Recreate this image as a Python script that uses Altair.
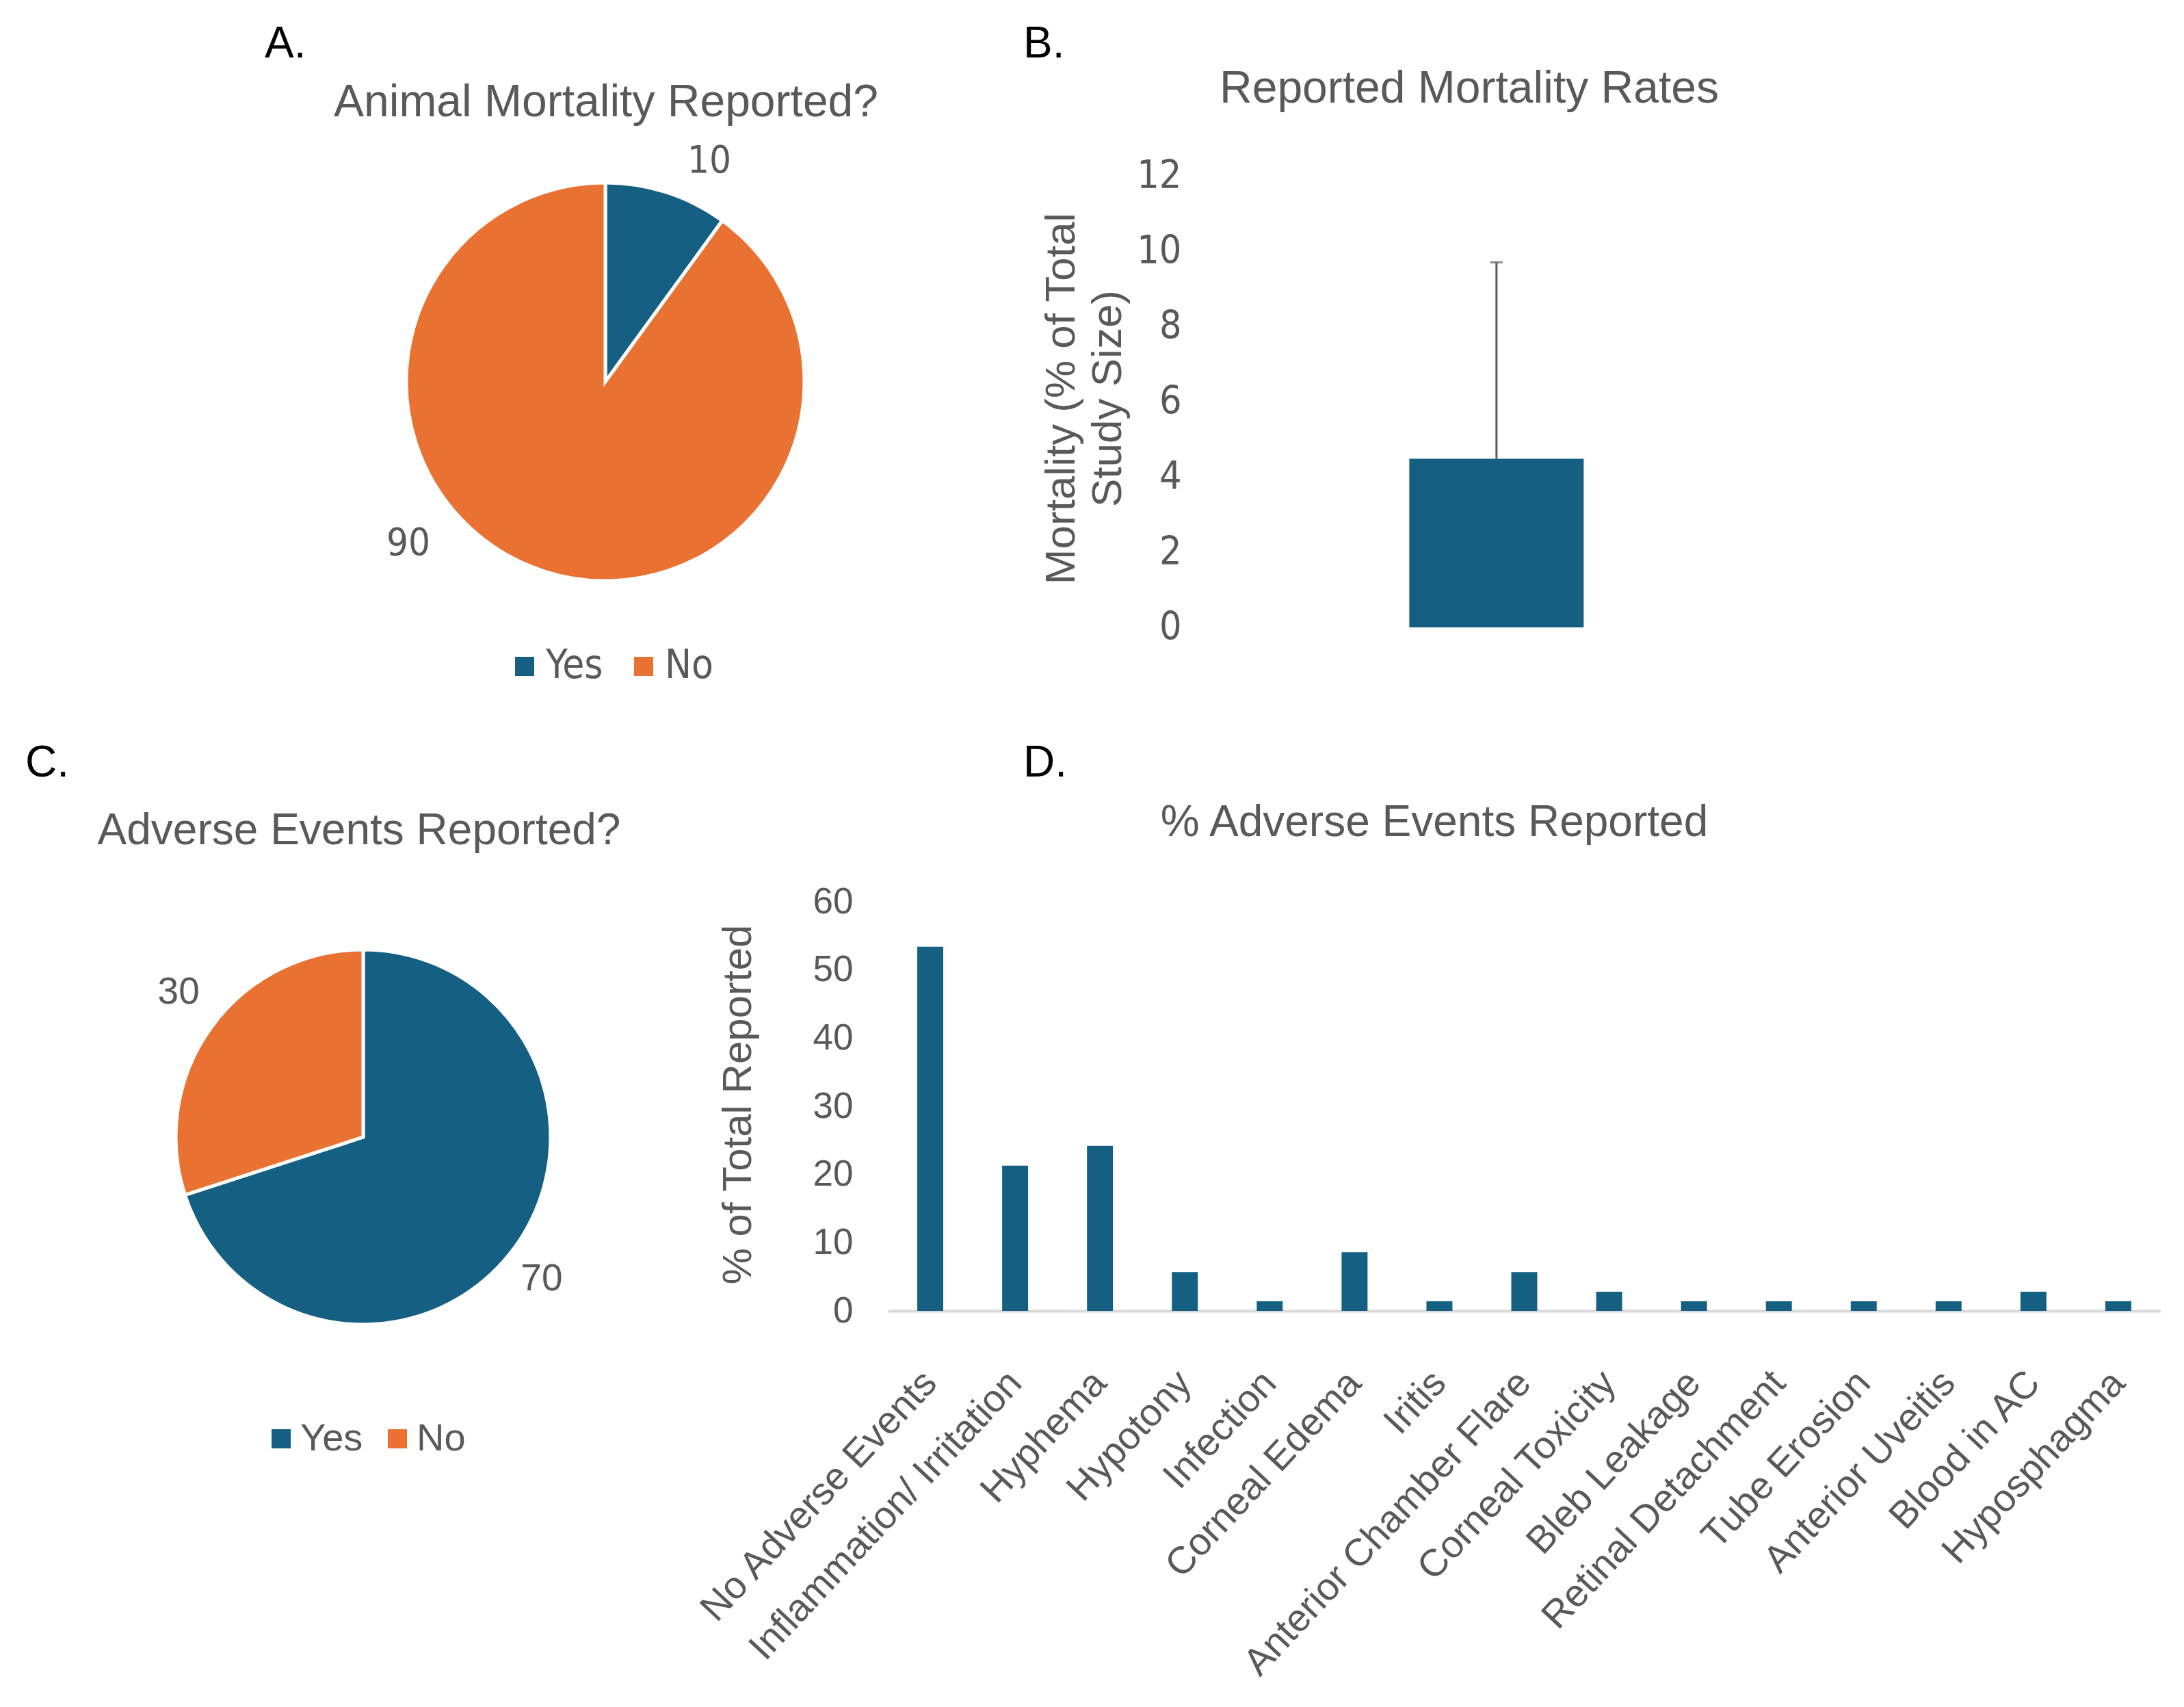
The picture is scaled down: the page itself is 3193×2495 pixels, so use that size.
import altair as alt
import pandas as pd

# ---- data -----------------------------------------------------------------
answers = ["Yes", "No"]
mortality_reported = [10, 90]          # % of studies reporting animal mortality
adverse_reported = [70, 30]            # % of studies reporting adverse events

mortality_mean = [4.48]                # mean mortality, % of total study size
mortality_sd = [5.22]                  # upper error bar

events = [
    "No Adverse Events", "Inflammation/ Irritation", "Hyphema", "Hypotony",
    "Infection", "Corneal Edema", "Iritis", "Anterior Chamber Flare",
    "Corneal Toxicity", "Bleb Leakage", "Retinal Detachment", "Tube Erosion",
    "Anterior Uveitis", "Blood in AC", "Hyposphagma",
]
event_pct = [53.4, 21.3, 24.2, 5.7, 1.4, 8.6, 1.4, 5.7, 2.8, 1.4, 1.4, 1.4, 1.4, 2.8, 1.4]

# ---- style ----------------------------------------------------------------
BLUE = "#156082"
ORANGE = "#E97132"
GREY = "#595959"
AXIS_GREY = "#D9D9D9"
REGULAR = "Liberation Sans, Arial, sans-serif"
NARROW = "Liberation Sans Narrow, Arial Narrow, DejaVu Sans Condensed, sans-serif"

LEFT_W = 1298          # width of the left column (panels A and C)
ROW1_H = 1116          # height of the top row (panels A and B)


def note(text, x, y, size, color=GREY, font=REGULAR, align="center"):
    """A single piece of annotation text placed inside a panel."""
    return alt.Chart(pd.DataFrame({"t": [text]})).mark_text(
        fontSize=size, font=font, color=color, align=align, baseline="middle"
    ).encode(x=alt.value(x), y=alt.value(y), text="t:N")


def pie(counts, center, radius, labels, label_font, label_size,
        legend_xy, legend_font, legend_size, legend_gap, legend_offset):
    df = pd.DataFrame({"answer": answers, "count": counts, "idx": [0, 1]})
    base = alt.Chart(df)
    theta = alt.Theta("count:Q", stack=True, scale=alt.Scale(domain=[0, 100]))
    order = alt.Order("idx:Q")
    cx, cy = alt.value(center[0]), alt.value(center[1])
    color = alt.Color(
        "answer:N",
        scale=alt.Scale(domain=answers, range=[BLUE, ORANGE]),
        legend=alt.Legend(
            orient="none", legendX=legend_xy[0], legendY=legend_xy[1],
            direction="horizontal", title=None, symbolType="square",
            symbolSize=784, symbolStrokeWidth=0, labelFontSize=legend_size,
            labelFont=legend_font, labelColor=GREY, labelOffset=legend_offset,
            columnPadding=legend_gap,
        ),
    )
    arcs = base.mark_arc(outerRadius=radius, stroke="white", strokeWidth=5).encode(
        theta=theta, color=color, order=order, x=cx, y=cy
    )
    layers = [arcs]
    for ans, (r, offset) in labels.items():
        layers.append(
            base.mark_text(
                radius=r, thetaOffset=offset, fontSize=label_size, font=label_font,
                color=GREY, align="center", baseline="middle",
            ).encode(
                theta=theta, order=order, x=cx, y=cy,
                text=alt.condition(alt.datum.answer == ans, "count:Q", alt.value("")),
            )
        )
    return layers


# ---- A: animal mortality reported? ------------------------------------------
panel_a = alt.layer(
    *pie(mortality_reported, (885, 558), 291,
         {"Yes": (357, 0.126), "No": (372, 0.571)}, NARROW, 56,
         (738, 945), NARROW, 58, 30, 2),
    note("Animal Mortality Reported?", 886, 150, 66),
    note("A.", 387, 65, 64, color="black", align="left"),
).properties(width=LEFT_W, height=ROW1_H)

# ---- B: reported mortality rates --------------------------------------------
B_W = 1308
B_AXIS_SHIFT = 472     # the value axis sits this far inside the panel
df_b = pd.DataFrame({
    "group": ["All studies"],
    "mean": mortality_mean,
    "upper": [m + s for m, s in zip(mortality_mean, mortality_sd)],
})
y_scale_b = alt.Scale(domain=[-3.618, 16.673], nice=False, zero=False)
y_axis_b = alt.Axis(
    values=[0, 2, 4, 6, 8, 10, 12], grid=False, domain=False, ticks=False,
    offset=-B_AXIS_SHIFT,
    labelPadding=43, labelFontSize=57, labelFont=NARROW, labelColor=GREY,
    title=["Mortality (% of Total", "Study Size)"], titleFontSize=62,
    titleFont=REGULAR, titleColor=GREY, titleFontWeight="normal",
    titleAngle=270, titleX=-219, titleY=582, titleAlign="center",
    titleBaseline="middle", titleLineHeight=68,
)
x_b = alt.X("group:N", axis=None,
            scale=alt.Scale(paddingInner=0.5157, paddingOuter=1, align=0.724))
base_b = alt.Chart(df_b)
bar_b = base_b.mark_bar(color=BLUE).encode(
    x=x_b, y=alt.Y("mean:Q", scale=y_scale_b, axis=y_axis_b), y2=alt.datum(0)
)
err_b = base_b.mark_rule(color=GREY, strokeWidth=3).encode(
    x=x_b, y=alt.Y("mean:Q", scale=y_scale_b, axis=y_axis_b), y2="upper:Q"
)
cap_b = base_b.mark_tick(color=GREY, thickness=3, size=18).encode(
    x=x_b, y=alt.Y("upper:Q", scale=y_scale_b, axis=y_axis_b)
)
panel_b = alt.layer(
    bar_b, err_b, cap_b,
    note("Reported Mortality Rates", 850, 130, 66),
    note("B.", 198, 65, 64, color="black", align="left"),
).properties(width=B_W, height=ROW1_H)

# ---- C: adverse events reported? --------------------------------------------
C_H = 1092
panel_c = alt.layer(
    *pie(adverse_reported, (531, 546), 274,
         {"Yes": (333, 0.042), "No": (343, 0.037)}, REGULAR, 55,
         (383, 959), REGULAR, 56, 22, 0),
    note("Adverse Events Reported?", 525, 99, 64),
    note("C.", 37, 0, 64, color="black", align="left"),
).properties(width=LEFT_W, height=C_H)

# ---- D: % adverse events reported -------------------------------------------
D_W, D_H = 1861, 800
df_d = pd.DataFrame({"event": events, "pct": event_pct})
bars_d = alt.Chart(df_d).mark_bar(color=BLUE).encode(
    x=alt.X(
        "event:N", sort=events, title=None,
        scale=alt.Scale(paddingInner=0.694, paddingOuter=0.347),
        axis=alt.Axis(
            labelAngle=313, labelAlign="right", labelBaseline="middle",
            labelPadding=96, labelFontSize=56, labelFont=REGULAR,
            labelColor=GREY, labelLimit=1000, labelOverlap=False,
            ticks=False, domainColor=AXIS_GREY, domainWidth=4,
        ),
    ),
    y=alt.Y(
        "pct:Q", scale=alt.Scale(domain=[0, 80.27], nice=False),
        axis=alt.Axis(
            values=[0, 10, 20, 30, 40, 50, 60], grid=False, domain=False,
            ticks=False, labelPadding=51, labelFontSize=53, labelFont=REGULAR,
            labelColor=GREY, title="% of Total Reported", titleFontSize=60,
            titleFont=REGULAR, titleColor=GREY, titleFontWeight="normal",
            titleAngle=270, titleX=-219, titleY=498, titleAlign="center",
            titleBaseline="middle",
        ),
    ),
)
panel_d = alt.layer(
    bars_d,
    note("% Adverse Events Reported", 799, 87, 64),
    note("D.", 198, 0, 64, color="black", align="left"),
).properties(width=D_W, height=D_H)

# ---- figure layout ------------------------------------------------------------
chart = (
    alt.concat(panel_a, panel_b, panel_c, panel_d, columns=2, spacing=0,
               bounds="flush")
    .resolve_scale(color="independent", theta="independent",
                   x="independent", y="independent")
    .resolve_legend(color="independent")
    .properties(padding=0, background="white")
    .configure_view(stroke=None)
)

chart.save("out.html", embed_options={"renderer": "svg", "actions": False})
